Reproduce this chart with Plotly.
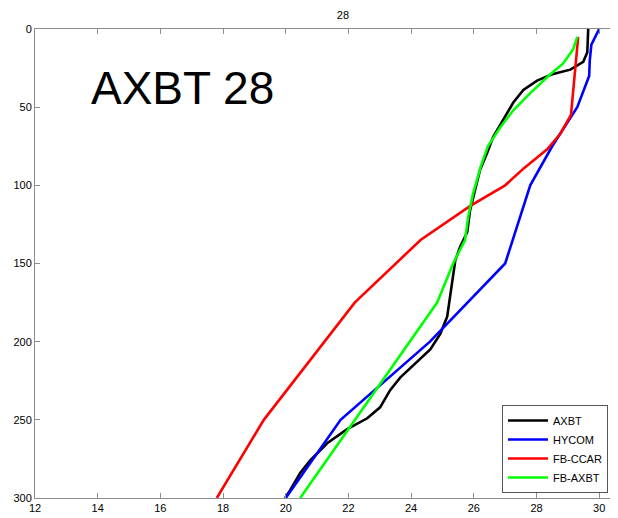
import plotly.graph_objects as go

# AXBT (observed profile)
axbt_depth = [0, 15, 21, 26, 29, 33, 39, 47, 58, 69, 79, 90, 103, 116, 130, 139, 148, 162,
              173, 184, 195, 205, 223, 231, 242, 249, 256, 265, 276, 284, 295, 300]
axbt_temp = [29.65, 29.62, 29.49, 29.08, 28.50, 28.02, 27.58, 27.26, 26.94, 26.62, 26.43, 26.20,
             26.04, 25.88, 25.79, 25.57, 25.41, 25.31, 25.25, 25.15, 24.93, 24.61, 23.65, 23.33,
             23.01, 22.60, 21.96, 21.32, 20.78, 20.46, 20.14, 19.98]

# HYCOM
hycom_depth = [0, 10, 20, 30, 50, 75, 100, 125, 150, 200, 250, 300]
hycom_temp = [30.0, 29.75, 29.7, 29.68, 29.3, 28.5, 27.8, 27.4, 27.0, 24.6, 21.75, 20.0]

# FB-CCAR
ccar_depth = [5, 55, 67, 77, 89, 100, 113, 135, 175, 250, 300]
ccar_temp = [29.33, 29.1, 28.76, 28.34, 27.6, 27.0, 25.9, 24.3, 22.2, 19.3, 17.8]

# FB-AXBT
fbaxbt_depth = [5, 13, 22, 29, 41, 52, 63, 75, 88, 105, 120, 135, 150, 175, 300]
fbaxbt_temp = [29.3, 29.17, 28.85, 28.44, 27.8, 27.26, 26.84, 26.45, 26.22, 25.98, 25.82,
               25.72, 25.34, 24.83, 20.46]

x_ticks = [12, 14, 16, 18, 20, 22, 24, 26, 28, 30]
y_ticks = [0, 50, 100, 150, 200, 250, 300]

FONT = "Liberation Sans, Arial, Helvetica, sans-serif"

fig = go.Figure()
series = [
    ("AXBT", axbt_temp, axbt_depth, "#000000"),
    ("HYCOM", hycom_temp, hycom_depth, "#0000ff"),
    ("FB-CCAR", ccar_temp, ccar_depth, "#ff0000"),
    ("FB-AXBT", fbaxbt_temp, fbaxbt_depth, "#00ff00"),
]
for name, xs, ys, col in series:
    fig.add_trace(go.Scatter(x=xs, y=ys, mode="lines", name=name,
                             line=dict(color=col, width=2.6)))

axis_common = dict(showgrid=False, zeroline=False, showline=True, linecolor="#8c8c8c",
                   linewidth=1, ticks="inside", ticklen=5, tickcolor="#8c8c8c",
                   mirror="ticks", automargin=False,
                   tickfont=dict(family=FONT, size=11, color="black"))

fig.update_xaxes(range=[12, 30.6], tickvals=x_ticks, **axis_common)
fig.update_yaxes(range=[300, 0], tickvals=y_ticks, **axis_common)

# The page body adds an 8px offset, margins compensate for it
fig.update_layout(
    width=618, height=518,
    margin=dict(l=27, r=8, t=21, b=28, autoexpand=False),
    paper_bgcolor="white", plot_bgcolor="white",
    title=dict(text="28", x=0.542, xref="container", xanchor="center",
               y=0.9855, yref="container", yanchor="middle",
               font=dict(family=FONT, size=11, color="black")),
    legend=dict(x=0.801, y=0.0107, xanchor="left", yanchor="bottom",
                bgcolor="white", bordercolor="#555555", borderwidth=1,
                font=dict(family=FONT, size=11, color="black"),
                tracegroupgap=0, itemwidth=40),
    showlegend=True,
    annotations=[dict(text="AXBT 28", x=0.093, y=0.875, xref="paper", yref="paper",
                      xanchor="left", yanchor="middle", showarrow=False,
                      font=dict(family=FONT, size=46, color="black"))],
)

fig.write_html("out.html")
